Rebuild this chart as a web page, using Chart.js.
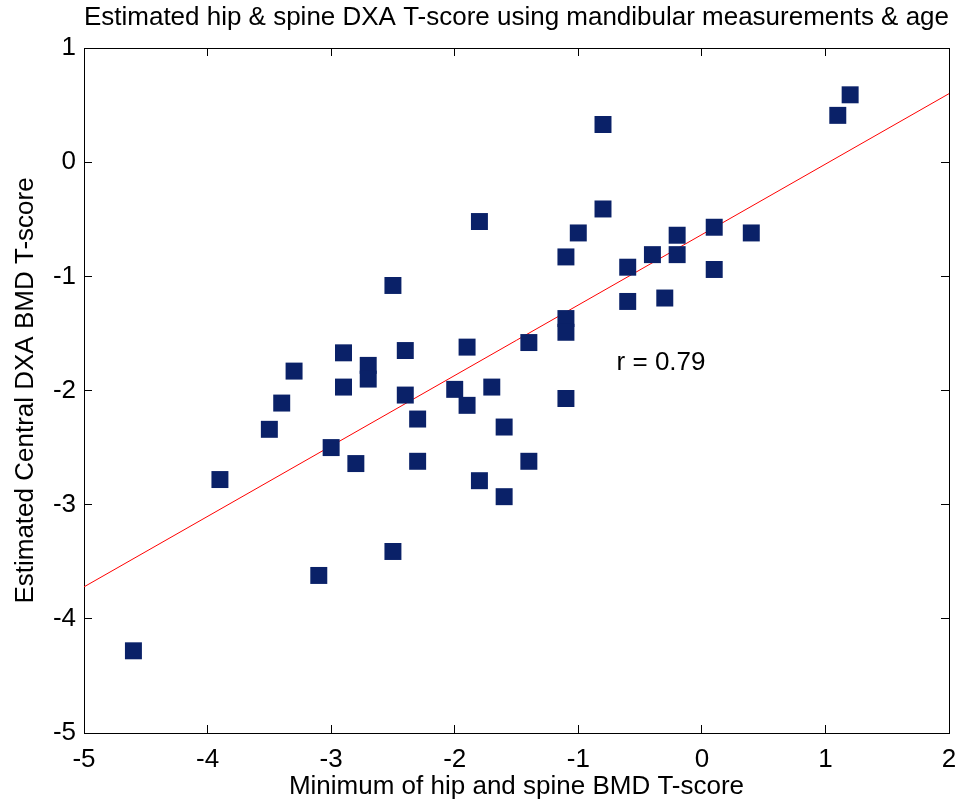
<!DOCTYPE html>
<html>
<head>
<meta charset="utf-8">
<script src="https://cdn.jsdelivr.net/npm/chart.js@4/dist/chart.umd.min.js"></script>
<style>
  body { margin: 0; background: #fff; }
  #wrap { width: 961px; height: 802px; }
</style>
</head>
<body>
<div id="wrap"><canvas id="myChart" width="961" height="802"></canvas></div>
<script>
// measured T-scores (x = min of hip/spine, y = estimated central DXA)
const minTScore = [
  -4.6, -3.9, -3.5, -3.4, -3.3, -3.1, -3.0, -2.9, -2.9, -2.8,
  -2.7, -2.7, -2.5, -2.5, -2.4, -2.4, -2.3, -2.3, -2.0, -1.9,
  -1.9, -1.8, -1.8, -1.7, -1.6, -1.6, -1.4, -1.4, -1.1, -1.1,
  -1.1, -1.1, -1.0, -0.8, -0.8, -0.6, -0.6, -0.4, -0.3, -0.2,
  -0.2, 0.1, 0.1, 0.4, 1.1, 1.2
];
const estTScore = [
  -4.28, -2.78, -2.34, -2.11, -1.83, -3.62, -2.50, -1.67, -1.97, -2.64,
  -1.78, -1.90, -1.08, -3.41, -1.65, -2.04, -2.25, -2.62, -1.99, -1.62,
  -2.13, -0.52, -2.79, -1.97, -2.32, -2.93, -1.58, -2.62, -0.83, -1.37,
  -1.49, -2.07, -0.62, 0.33, -0.41, -0.92, -1.22, -0.81, -1.19, -0.64,
  -0.81, -0.57, -0.94, -0.62, 0.41, 0.59
];
// fitted line end points
const fitX = [-5, 2];
const fitY = [-3.72, 0.60];

const xTicks = [-5, -4, -3, -2, -1, 0, 1, 2];
const yTicks = [1, 0, -1, -2, -3, -4, -5];

const rText = 'r = 0.79';
const rPos = [-0.69, -1.76];

const FONT = "'Liberation Sans', Arial, Helvetica, sans-serif";
Chart.defaults.font.family = FONT;
Chart.defaults.color = '#000';

const scatterPts = minTScore.map((x, i) => ({ x: x, y: estTScore[i] }));
const linePts = fitX.map((x, i) => ({ x: x, y: fitY[i] }));

const rLabel = {
  id: 'rLabel',
  afterDatasetsDraw(chart) {
    const c = chart.ctx;
    c.save();
    c.font = '26px ' + FONT;
    c.fillStyle = '#000';
    c.textAlign = 'left';
    c.textBaseline = 'middle';
    c.fillText(rText, chart.scales.x.getPixelForValue(rPos[0]), chart.scales.y.getPixelForValue(rPos[1]));
    c.restore();
  }
};

function tickAxis(extra) {
  return Object.assign({
    type: 'linear',
    grid: { drawOnChartArea: false, drawTicks: true, tickLength: -8, color: '#000', lineWidth: 1 },
    border: { display: true, color: '#000', width: 1 }
  }, extra);
}

// no extra room for overhanging tick labels
function noPad(s) {
  s.paddingLeft = 0; s.paddingRight = 0; s.paddingTop = 0; s.paddingBottom = 0;
}

new Chart(document.getElementById('myChart').getContext('2d'), {
  type: 'scatter',
  data: {
    datasets: [
      {
        label: 'fit',
        type: 'line',
        data: linePts,
        borderColor: '#ff0000',
        borderWidth: 1,
        pointRadius: 0,
        fill: false,
        order: 2
      },
      {
        label: 'patients',
        data: scatterPts,
        pointStyle: 'rect',
        pointRadius: 12,
        backgroundColor: 'rgb(10,33,104)',
        borderColor: 'rgb(10,33,104)',
        borderWidth: 0,
        order: 1
      }
    ]
  },
  options: {
    responsive: false,
    animation: false,
    events: [],
    layout: { padding: { left: 0, right: 10, top: 0, bottom: 0 } },
    plugins: {
      legend: { display: false },
      tooltip: { enabled: false },
      title: {
        display: true,
        fullSize: false,
        text: 'Estimated hip & spine DXA T-score using mandibular measurements & age',
        font: { size: 26.5, weight: 'normal' },
        color: '#000',
        padding: { top: 2, bottom: 14.2 }
      }
    },
    scales: {
      x: tickAxis({
        position: 'bottom',
        min: -5, max: 2,
        afterBuildTicks: s => { s.ticks = xTicks.map(v => ({ value: v })); },
        ticks: { font: { size: 26 }, padding: 19, maxRotation: 0 },
        title: { display: true, text: 'Minimum of hip and spine BMD T-score', font: { size: 26 }, padding: { top: 0, bottom: 0 } },
        afterFit: s => { s.height = 69; noPad(s); }
      }),
      y: tickAxis({
        position: 'left',
        min: -5, max: 1,
        afterBuildTicks: s => { s.ticks = yTicks.map(v => ({ value: v })); },
        ticks: { font: { size: 26 }, padding: 16 },
        title: { display: true, text: 'Estimated Central DXA BMD T-score', font: { size: 26 }, padding: { top: 10, bottom: 0 } },
        afterFit: s => { s.width = 84; noPad(s); }
      }),
      x2: tickAxis({
        position: 'top',
        min: -5, max: 2,
        afterBuildTicks: s => { s.ticks = xTicks.map(v => ({ value: v })); },
        ticks: { display: false },
        afterFit: s => { s.height = 0; noPad(s); }
      }),
      y2: tickAxis({
        position: 'right',
        min: -5, max: 1,
        afterBuildTicks: s => { s.ticks = yTicks.map(v => ({ value: v })); },
        ticks: { display: false },
        afterFit: s => { s.width = 0; noPad(s); }
      })
    }
  },
  plugins: [rLabel]
});
</script>
</body>
</html>
